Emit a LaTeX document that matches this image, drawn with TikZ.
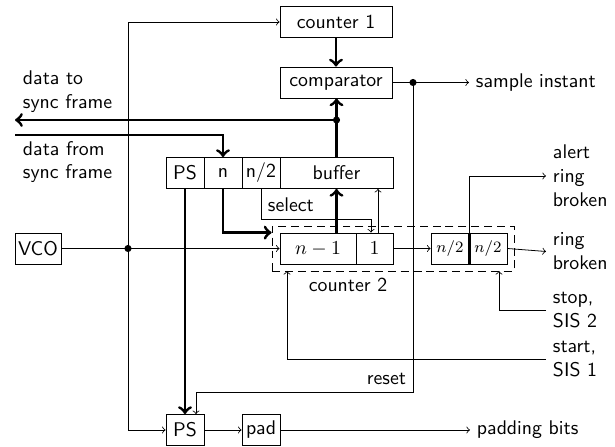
\documentclass[tikz,border=0pt]{standalone}
\usetikzlibrary{arrows.meta}
\begin{document}
\begin{tikzpicture}[x=0.505pt, y=-0.505pt, font=\sffamily,
  >=to,
  blk/.style={draw, inner sep=0pt, minimum height=15.66pt},
  bus/.style={line width=1.5pt},
  junction/.style={circle, fill, inner sep=0pt, minimum size=3.6pt},
  lbl/.style={align=left, anchor=west}]
  \useasboundingbox (0,0) rectangle (615,447);

  % counter 2 frame (dashed)
  \node[draw, dash pattern=on 4pt off 2.5pt, inner sep=0pt,
        minimum width=122.2pt, minimum height=22.7pt] (cnt2) at (393,248.5) {};
  \node (cnt2lbl) at (348,285) {counter 2};

  % blocks
  \node[blk, minimum width=56.56pt] (ctr1) at (336,22) {counter 1};
  \node[blk, minimum width=56.56pt] (cmp) at (336,82.5) {comparator};
  \node[blk, minimum width=19.19pt] (ps1) at (185,173) {PS};
  \node[blk, minimum width=19.19pt] (nn) at (223,173) {n};
  \node[blk, minimum width=19.19pt] (nh) at (261,173) {n/2};
  \node[blk, minimum width=57.07pt] (buf) at (336.5,173) {buffer};
  \node[blk, minimum width=38.38pt] (nm1) at (318,248.5) {$n-1$};
  \node[blk, minimum width=18.69pt] (one) at (374.5,248.5) {$1$};
  \node[blk, minimum width=19.19pt, font=\footnotesize] (ha) at (450,248.5) {$n/2$};
  \node[blk, minimum width=19.19pt, font=\footnotesize] (hb) at (488,248.5) {$n/2$};
  \node[blk, minimum width=23.23pt] (vco) at (38,248.5) {VCO};
  \node[blk, minimum width=19.19pt] (ps2) at (185,430) {PS};
  \node[blk, minimum width=19.19pt] (pad) at (261,430) {pad};

  % outside labels
  \node[lbl] (dto) at (16,91.5) {data to\\sync frame};
  \node[lbl] (dfrom) at (16,162) {data from\\sync frame};
  \node[lbl] (sample) at (469,82.5) {sample instant};
  \node[lbl] (alert) at (546,176) {alert\\ring\\broken};
  \node[lbl] (ringb) at (546,251.5) {ring\\broken};
  \node[lbl] (stop) at (546,310) {stop,\\SIS 2};
  \node[lbl] (start) at (546,359) {start,\\SIS 1};
  \node[lbl] (padbits) at (470,430) {padding bits};

  % helper points
  \coordinate (j1) at (413,82.5);
  \coordinate (j2) at (336.5,120);
  \coordinate (j3) at (128,248.5);
  \coordinate (dtoend) at (15,120);
  \coordinate (dfromstart) at (15,135);
  \coordinate (rst) at (196,392);
  \coordinate (selc) at (371,219);
  \coordinate (up1) at (378,233);
  \coordinate (stopin) at (499,271);
  \coordinate (startin) at (287,271);

  % data paths (thick)
  \draw[bus,->] (ctr1) -- (cmp);
  \draw[bus,->] (buf.north) -- (buf.north |- cmp.south);
  \draw[bus,->] (j2) -- (dtoend);
  \draw[bus,->] (dfromstart) -| (nn.north);
  \draw[bus,->] (ps1.south) -- (ps2.north);
  \draw[bus,->] (nn.south) |- (cnt2.west |- nm1.north);
  \draw[bus,->] (buf.south |- nm1.north) -- (buf.south);
  \draw[bus] (ha.north east) -- (ha.south east);
  \node[junction] at (j2) {};

  % control paths (thin)
  \draw[->] (cmp.east) -- (sample.west);
  \node[junction] at (j1) {};
  \draw[->] (j1) |- (rst) -- (rst |- ps2.north);
  \node[anchor=south east] at (413,392) {reset};

  \draw[->] (vco.east) -- (nm1.west);
  \node[junction] at (j3) {};
  \draw[->] (j3) |- (ctr1.west);
  \draw[->] (j3) |- (ps2.west);

  \draw[->] (nh.south) |- (selc) -- (selc |- one.north);
  \node[anchor=south west] at (nh.south |- selc) {select};
  \draw[->] (up1) -- (up1 |- buf.south);

  \draw[->] (one.east) -- (ha.west);
  \draw[->] (hb.east) -- (ringb.west);
  \draw[->] (ha.north east) |- (alert.west);
  \draw[->] (stop.west) -| (stopin);
  \draw[->] (start.west) -| (startin);

  \draw[->] (ps2.east) -- (pad.west);
  \draw[->] (pad.east) -- (padbits.west);
\end{tikzpicture}
\end{document}
